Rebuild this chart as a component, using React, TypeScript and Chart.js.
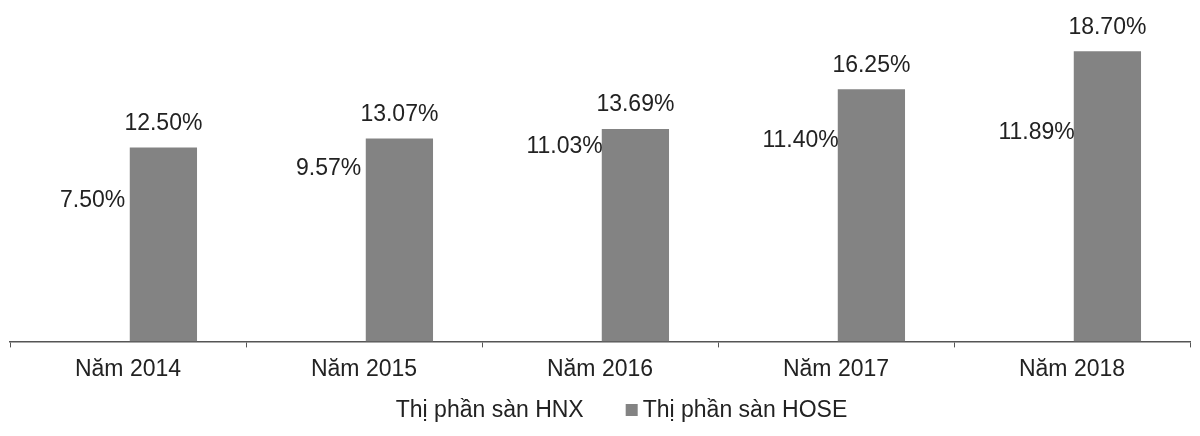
import React, { useEffect, useRef } from "react";
import { Chart, registerables } from "chart.js";

Chart.register(...registerables);

const categories = ["Năm 2014", "Năm 2015", "Năm 2016", "Năm 2017", "Năm 2018"];
const hnxValues = [7.5, 9.57, 11.03, 11.4, 11.89];
const hoseValues = [12.5, 13.07, 13.69, 16.25, 18.7];
const seriesNames = ["Thị phần sàn HNX", "Thị phần sàn HOSE"];
const seriesColors = ["rgba(255,255,255,0)", "#838383"];

const FONT = "'Liberation Sans', Arial, sans-serif";

const valueLabels = {
  id: "valueLabels",
  afterDatasetsDraw(chart: any) {
    const ctx = chart.ctx;
    ctx.save();
    ctx.font = `23px ${FONT}`;
    ctx.fillStyle = "#222";
    ctx.textAlign = "center";
    ctx.textBaseline = "middle";
    chart.data.datasets.forEach((ds: any, i: number) => {
      const meta = chart.getDatasetMeta(i);
      meta.data.forEach((el: any, j: number) => {
        const v = ds.data[j] as number;
        ctx.fillText(v.toFixed(2) + "%", el.x, el.y - 24);
      });
    });
    ctx.restore();
  },
};

const customLegend = {
  id: "customLegend",
  afterDraw(chart: any) {
    const ctx = chart.ctx;
    ctx.save();
    ctx.font = `23px ${FONT}`;
    ctx.textBaseline = "middle";
    ctx.textAlign = "left";
    const box = 12;
    const gap = 5;
    const itemGap = 42;
    const items = chart.data.datasets.map((ds: any) => ({
      label: ds.label as string,
      color: ds.backgroundColor as string,
      w: ctx.measureText(ds.label).width,
    }));
    let total = 0;
    items.forEach((it: any, i: number) => {
      total += box + gap + it.w + (i < items.length - 1 ? itemGap : 0);
    });
    const cy = 402;
    let x = 605 - total / 2;
    items.forEach((it: any) => {
      ctx.fillStyle = it.color;
      ctx.fillRect(x, cy - box / 2, box, box);
      x += box + gap;
      ctx.fillStyle = "#222";
      ctx.fillText(it.label, x, cy + 1);
      x += it.w + itemGap;
    });
    ctx.restore();
  },
};

export default function App() {
  const ref = useRef<HTMLCanvasElement | null>(null);
  useEffect(() => {
    if (!ref.current) return;
    const chart = new Chart(ref.current, {
      type: "bar",
      data: {
        labels: categories,
        datasets: [
          {
            label: seriesNames[0],
            data: hnxValues,
            backgroundColor: seriesColors[0],
            borderWidth: 0,
          },
          {
            label: seriesNames[1],
            data: hoseValues,
            backgroundColor: seriesColors[1],
            borderWidth: 0,
          },
        ],
      },
      options: {
        responsive: true,
        maintainAspectRatio: false,
        animation: false,
        layout: { padding: { left: 2, right: 2, top: 23, bottom: 37 } },
        datasets: { bar: { categoryPercentage: 0.6, barPercentage: 0.95 } },
        plugins: {
          tooltip: { enabled: false },
          legend: { display: false },
        },
        scales: {
          x: {
            grid: {
              display: true,
              drawOnChartArea: false,
              drawTicks: true,
              tickLength: 6,
              color: "#555",
            },
            border: { display: true, color: "#555", width: 1.5 },
            ticks: {
              font: { family: FONT, size: 23 },
              color: "#222",
              padding: 8,
            },
          },
          y: {
            display: false,
            min: 0,
            max: 20,
          },
        },
      },
      plugins: [valueLabels, customLegend],
    });
    return () => chart.destroy();
  }, []);
  return (
    <div style={{ width: 1184, height: 420, position: "relative" }}>
      <canvas ref={ref} />
    </div>
  );
}
